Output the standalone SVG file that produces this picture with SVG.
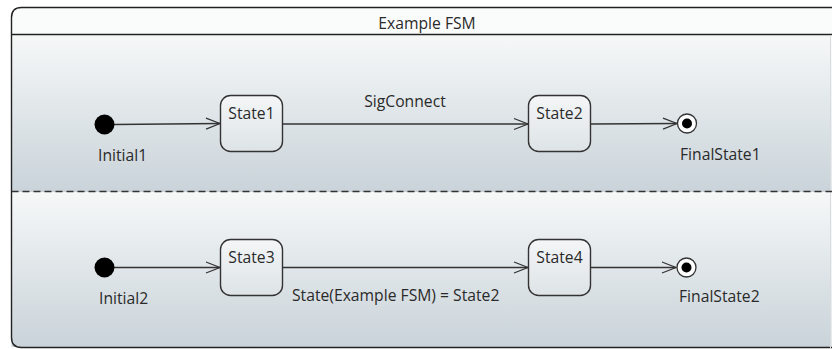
<svg xmlns="http://www.w3.org/2000/svg" width="832" height="349" viewBox="0 0 832 349">
<style>
text{font-family:"Open Sans","Noto Sans","Liberation Sans",sans-serif;font-size:15.7px;fill:#2a2a2a}
.st{fill:url(#sg);stroke:#333;stroke-width:1.4}
.tr{fill:none;stroke:#333;stroke-width:1.3}
.ini{fill:#000}
.fo{fill:#fff;stroke:#333;stroke-width:1.3}
.fi{fill:#000}
</style>
<defs>
<linearGradient id="bg" x1="0" y1="0" x2="0" y2="1">
<stop offset="0" stop-color="#f6f8f8"/>
<stop offset="1" stop-color="#c9d3d9"/>
</linearGradient>
<linearGradient id="sg" x1="0" y1="0" x2="0" y2="1">
<stop offset="0" stop-color="#f4f6f7"/>
<stop offset="1" stop-color="#dde3e6"/>
</linearGradient>
<marker id="arr" markerWidth="16" markerHeight="14" refX="15" refY="7" orient="auto" markerUnits="userSpaceOnUse">
<path d="M1,1.5 L15,7 L1,12.5" fill="none" stroke="#333" stroke-width="1.3"/>
</marker>
</defs>
<g id="frame">
<rect x="11.5" y="35" width="820" height="157" fill="url(#bg)"/>
<rect x="11.5" y="192" width="820" height="155" fill="url(#bg)"/>
<path d="M11.5,35 L11.5,17.5 Q11.5,7.5 21.5,7.5 L832,7.5 L832,34.5 Z" fill="#fafbfb"/>
<path d="M832,7.5 L21.5,7.5 Q11.5,7.5 11.5,17.5 L11.5,337.5 Q11.5,347.5 21.5,347.5 L832,347.5" fill="none" stroke="#222" stroke-width="1.4"/>
<line x1="11.5" y1="34.5" x2="832" y2="34.5" stroke="#222" stroke-width="1.4"/>
<line x1="830.5" y1="35" x2="830.5" y2="349" stroke="#d8dcde" stroke-width="1"/>
<line x1="11.5" y1="191.5" x2="832" y2="191.5" stroke="#333" stroke-width="1.5" stroke-dasharray="7,4"/>
<text x="427" y="29" text-anchor="middle">Example FSM</text>
</g>
<g id="connectors">
<line class="tr" x1="114" y1="124.5" x2="220" y2="123.5" marker-end="url(#arr)"/>
<line class="tr" x1="283" y1="124" x2="528" y2="124" marker-end="url(#arr)"/>
<text x="405" y="107" text-anchor="middle">SigConnect</text>
<line class="tr" x1="591" y1="124" x2="677" y2="123.5" marker-end="url(#arr)"/>
<line class="tr" x1="114" y1="267.5" x2="220" y2="267.5" marker-end="url(#arr)"/>
<line class="tr" x1="283" y1="267.5" x2="528" y2="267.5" marker-end="url(#arr)"/>
<text x="292" y="301">State(Example FSM) = State2</text>
<line class="tr" x1="591" y1="267.5" x2="676" y2="267.5" marker-end="url(#arr)"/>
</g>
<g id="Initial1">
<circle class="ini" cx="104.5" cy="124.5" r="10"/>
<text x="98" y="161">Initial1</text>
</g>
<g id="State1">
<rect class="st" x="220.5" y="95.5" width="62" height="56" rx="10"/>
<text x="251.5" y="119" text-anchor="middle">State1</text>
</g>
<g id="State2">
<rect class="st" x="528.5" y="95.5" width="62" height="56" rx="10"/>
<text x="559.5" y="119" text-anchor="middle">State2</text>
</g>
<g id="FinalState1">
<circle class="fo" cx="687" cy="123.5" r="9.5"/>
<circle class="fi" cx="687" cy="123.5" r="5"/>
<text x="680" y="160">FinalState1</text>
</g>
<g id="Initial2">
<circle class="ini" cx="104.5" cy="267.5" r="10"/>
<text x="99" y="304">Initial2</text>
</g>
<g id="State3">
<rect class="st" x="220.5" y="239.5" width="62" height="56" rx="10"/>
<text x="251.5" y="263" text-anchor="middle">State3</text>
</g>
<g id="State4">
<rect class="st" x="528.5" y="239.5" width="62" height="56" rx="10"/>
<text x="559.5" y="263" text-anchor="middle">State4</text>
</g>
<g id="FinalState2">
<circle class="fo" cx="686.5" cy="267.5" r="9.5"/>
<circle class="fi" cx="686.5" cy="267.5" r="5"/>
<text x="679" y="302">FinalState2</text>
</g>
</svg>
